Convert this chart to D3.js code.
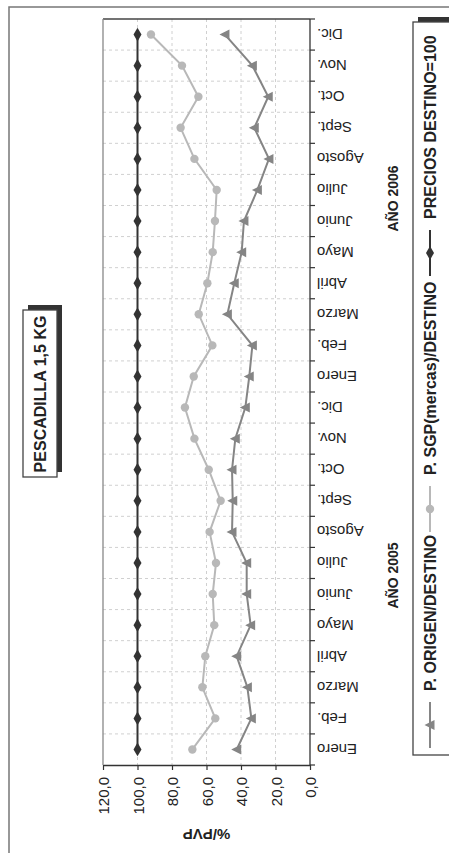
<!DOCTYPE html>
<html><head><meta charset="utf-8">
<script src="https://cdn.jsdelivr.net/npm/d3@7"></script>
<style>html,body{margin:0;padding:0;background:#fff;}svg{display:block;font-family:"Liberation Sans",Arial,sans-serif;}</style>
</head><body>
<script>
const months = ["Enero","Feb.","Marzo","Abril","Mayo","Junio","Julio","Agosto","Sept.","Oct.","Nov.","Dic.",
                "Enero","Feb.","Marzo","Abril","Mayo","Junio","Julio","Agosto","Sept.","Oct.","Nov.","Dic."];
const years = ["AÑO 2005","AÑO 2006"];
const origen = [42.5,34.0,36.3,42.5,34.4,36.7,36.7,45.2,44.8,45.2,43.3,37.5,
                35.2,33.4,47.9,43.9,39.6,38.3,30.5,23.8,32.3,24.2,33.4,49.3];
const sgp = [68.2,54.9,62.4,60.7,55.5,56.4,54.5,58.2,51.8,58.7,67.0,72.5,
             67.4,56.6,64.5,59.5,56.4,55.1,54.1,67.0,75.0,64.7,74.2,92.2];
const destino = [100,100,100,100,100,100,100,100,100,100,100,100,
                 100,100,100,100,100,100,100,100,100,100,100,100];
const valueTicks = [0,20,40,60,80,100,120];
const title = "PESCADILLA 1,5 KG";
const yTitle = "%/PVP";
const legendLabels = ["P. ORIGEN/DESTINO","P. SGP(mercas)/DESTINO","PRECIOS DESTINO=100"];

const W = 449, H = 853;
const svg = d3.select("body").append("svg").attr("width", W).attr("height", H);

const pL = 103, pR = 310, pT = 19, pB = 765;
const x = d3.scaleLinear().domain([0,120]).range([pR,pL]);
const idx = d3.range(months.length);
const y = d3.scaleBand().domain(idx).range([pB, pT]);
const cy = i => y(i) + y.bandwidth()/2;

// outer frame
svg.append("path").attr("d", `M9,${H} L9,7 L${W},7`).attr("fill","none").attr("stroke","#777").attr("stroke-width",1.5);

// gridlines
const grid = svg.append("g");
valueTicks.filter(v => v>0 && v<120).forEach(v => {
  grid.append("line").attr("x1", x(v)).attr("x2", x(v)).attr("y1", pT).attr("y2", pB)
    .attr("stroke","#d0d0d0").attr("stroke-dasharray","3,3").attr("stroke-width",1);
});
idx.slice(1).forEach(i => {
  grid.append("line").attr("x1", pL).attr("x2", pR).attr("y1", y(i-1)).attr("y2", y(i-1))
    .attr("stroke","#d0d0d0").attr("stroke-dasharray","3,3").attr("stroke-width",1);
});

// plot frame top & left
svg.append("line").attr("x1",pL).attr("x2",pR).attr("y1",pT).attr("y2",pT).attr("stroke","#444").attr("stroke-width",1.3);
svg.append("line").attr("x1",pL).attr("x2",pL).attr("y1",pT).attr("y2",pB).attr("stroke","#888").attr("stroke-width",1.3);

// value axis (bottom)
const xAxis = svg.append("g").attr("transform", `translate(0,${pB})`)
  .call(d3.axisBottom(x).tickValues(valueTicks).tickSize(5).tickSizeOuter(0)
        .tickFormat(d => d.toFixed(1).replace(".", ",")));
xAxis.select(".domain").attr("stroke","#333").attr("stroke-width",1.3);
xAxis.selectAll(".tick line").attr("stroke","#333").attr("stroke-width",1.2);
xAxis.selectAll(".tick text")
  .attr("font-size", 15).attr("fill","#222")
  .attr("text-anchor","end").attr("dominant-baseline","central")
  .attr("y", 0).attr("dy", null)
  .attr("transform","translate(0,12) rotate(-90)");

// category axis (right)
svg.append("line").attr("x1",pR).attr("x2",pR).attr("y1",pT).attr("y2",pB).attr("stroke","#333").attr("stroke-width",1.3);
const bounds = idx.map(i => y(i)).concat([pB]);
svg.append("g").selectAll("line").data(bounds).join("line")
  .attr("x1", pR).attr("x2", pR+5).attr("y1", d=>d).attr("y2", d=>d)
  .attr("stroke","#333").attr("stroke-width",1.2);
svg.append("g").selectAll("text").data(idx).join("text")
  .attr("x", 317).attr("y", i => cy(i))
  .attr("transform", i => `rotate(180,317,${cy(i)})`)
  .attr("text-anchor","end").attr("dominant-baseline","central")
  .attr("font-size",15).attr("fill","#222")
  .text(i => months[i]);

// y title (upside down)
svg.append("text").attr("x", (pL+pR)/2).attr("y", 834)
  .attr("transform", `rotate(180,${(pL+pR)/2},834)`)
  .attr("text-anchor","middle").attr("dominant-baseline","central")
  .attr("font-size",15).attr("font-weight","bold").attr("fill","#222").text(yTitle);

// year labels
[[0,11],[12,23]].forEach((r,k) => {
  const yc = (cy(r[0]) + cy(r[1]))/2 - (k ? 7 : 3);
  svg.append("text").attr("x", 393).attr("y", yc)
    .attr("transform", `rotate(-90,393,${yc})`)
    .attr("text-anchor","middle").attr("dominant-baseline","central")
    .attr("font-size",14).attr("font-weight","bold").attr("fill","#222").text(years[k]);
});

// title box
svg.append("rect").attr("x",28).attr("y",305).attr("width",34).attr("height",167).attr("fill","#333");
svg.append("rect").attr("x",23).attr("y",310).attr("width",34).attr("height",167).attr("fill","#fff").attr("stroke","#444").attr("stroke-width",1.3);
svg.append("text").attr("x",40).attr("y",394)
  .attr("transform","rotate(-90,40,394)")
  .attr("text-anchor","middle").attr("dominant-baseline","central")
  .attr("font-size",16).attr("font-weight","bold").attr("fill","#222").text(title);

// series
const triPath = "M-5.5,0 L4.5,-5 L4.5,5 Z";
const line = d3.line().x(d => x(d.v)).y(d => cy(d.i));
function series(vals, color, marker) {
  const pts = vals.map((v,i) => ({v, i}));
  svg.append("path").attr("d", line(pts)).attr("fill","none").attr("stroke",color).attr("stroke-width",2);
  const g = svg.append("g");
  pts.forEach(p => {
    const tx = x(p.v), ty = cy(p.i);
    if (marker === "circle") g.append("circle").attr("cx",tx).attr("cy",ty).attr("r",4.2).attr("fill",color);
    else if (marker === "tri") g.append("path").attr("d",triPath).attr("transform",`translate(${tx},${ty})`).attr("fill",color);
    else g.append("path").attr("d", d3.symbol(d3.symbolDiamond, 55)()).attr("transform",`translate(${tx},${ty})`).attr("fill",color);
  });
}
const colors = ["#858585","#b8b8b8","#333333"];
series(origen, colors[0], "tri");
series(sgp, colors[1], "circle");
series(destino, colors[2], "diamond");

// legend box
svg.append("rect").attr("x",418).attr("y",17).attr("width",60).attr("height",733).attr("fill","#333");
svg.append("rect").attr("x",413).attr("y",22).attr("width",60).attr("height",733).attr("fill","#fff").attr("stroke","#444").attr("stroke-width",1.3);
const legItems = [
  {m:725, label:legendLabels[0], color:colors[0], marker:"tri"},
  {m:509, label:legendLabels[1], color:colors[1], marker:"circle"},
  {m:253, label:legendLabels[2], color:colors[2], marker:"diamond"}
];
const lx = 430;
legItems.forEach(it => {
  svg.append("line").attr("x1",lx).attr("x2",lx).attr("y1",it.m-23).attr("y2",it.m+23).attr("stroke",it.color).attr("stroke-width",2);
  if (it.marker === "circle") svg.append("circle").attr("cx",lx).attr("cy",it.m).attr("r",4.2).attr("fill",it.color);
  else if (it.marker === "tri") svg.append("path").attr("d",triPath).attr("transform",`translate(${lx},${it.m})`).attr("fill",it.color);
  else svg.append("path").attr("d", d3.symbol(d3.symbolDiamond,55)()).attr("transform",`translate(${lx},${it.m})`).attr("fill",it.color);
  const ty = it.m - 34;
  svg.append("text").attr("x",lx).attr("y",ty).attr("transform",`rotate(-90,${lx},${ty})`)
    .attr("text-anchor","start").attr("dominant-baseline","central")
    .attr("font-size",16).attr("font-weight","bold").attr("fill","#222").text(it.label);
});
</script>
</body></html>
